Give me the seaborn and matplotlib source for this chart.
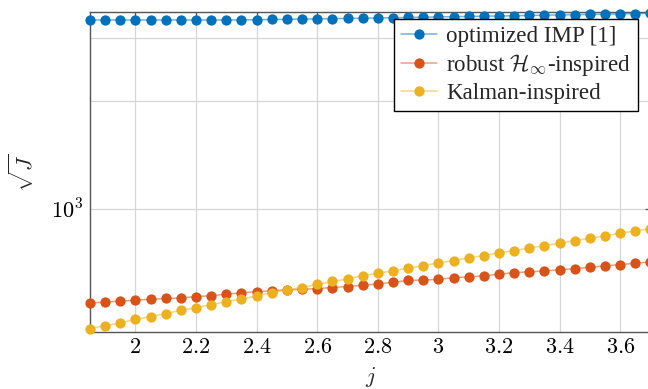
import numpy as np
import matplotlib
matplotlib.use("Agg")
import matplotlib.pyplot as plt
import matplotlib.ticker as mticker
import seaborn as sns

# x positions (step 0.05)
j = np.round(np.arange(1.85, 3.7001, 0.05), 2)

# sqrt(J)
imp = [3372, 3372, 3372, 3372, 3372, 3372, 3372, 3372, 3372, 3372,
       3374, 3378, 3383, 3387, 3391, 3396, 3402, 3406, 3411, 3416,
       3422, 3427, 3433, 3438, 3445, 3449, 3456, 3460, 3465, 3472,
       3478, 3483, 3490, 3494, 3501, 3505, 3514, 3521]
hinf = [545, 550, 552, 556, 559, 562, 564, 569, 572, 578,
        583, 587, 591, 594, 596, 599, 603, 607, 612, 617,
        624, 631, 633, 636, 642, 646, 650, 657, 664, 667,
        671, 676, 681, 687, 693, 699, 705, 711]
kalman = [463, 472, 480, 492, 500, 510, 521, 530, 540, 551,
          560, 571, 584, 594, 603, 615, 627, 637, 651, 661,
          671, 683, 694, 707, 717, 730, 741, 754, 765, 777,
          790, 802, 816, 828, 841, 855, 868, 881]

labels = ["optimized IMP [1]", r"robust $\mathcal{H}_\infty$-inspired", "Kalman-inspired"]
colors = ["#0072BD", "#D95319", "#EDB120"]

sns.set_theme(style="white")
plt.rcParams["font.family"] = ["Liberation Serif", "DejaVu Serif"]
plt.rcParams["mathtext.fontset"] = "cm"

fig = plt.figure(figsize=(6.48, 3.89), dpi=100)
ax = fig.add_axes([90 / 648, 57 / 389, 560.5 / 648, 319.7 / 389])

for y, lab, c in zip([imp, hinf, kalman], labels, colors):
    rgba = matplotlib.colors.to_rgba(c, 0.55)
    sns.lineplot(
        x=j, y=y, ax=ax, label=lab,
        color=rgba, linewidth=1.1,
        marker="o", markersize=7.4,
        markerfacecolor=c, markeredgecolor=c, markeredgewidth=0,
        clip_on=False, zorder=3
    )

ax.set_yscale("log")
ax.set_xlim(1.85, 3.7)
ax.set_ylim(453, 3543)

ax.set_xticks([2, 2.2, 2.4, 2.6, 2.8, 3, 3.2, 3.4, 3.6])
ax.xaxis.set_major_formatter(mticker.FuncFormatter(lambda v, p: f"${v:g}$"))
ax.yaxis.set_major_locator(mticker.FixedLocator([1000]))
ax.yaxis.set_minor_locator(mticker.FixedLocator([2000, 3000]))
ax.yaxis.set_major_formatter(mticker.FixedFormatter([r"$10^{3}$"]))
ax.yaxis.set_minor_formatter(mticker.NullFormatter())

ax.grid(True, which="both", color="#d6d6d6", linewidth=0.9)
ax.set_axisbelow(True)

for s in ax.spines.values():
    s.set_color("#555555")
    s.set_linewidth(1.0)

ax.tick_params(axis="both", which="both", direction="in", top=True, right=True,
               color="#555555", labelsize=16, labelcolor="black")
ax.tick_params(axis="both", which="major", length=4, width=0.9, pad=5)
ax.tick_params(axis="y", which="minor", length=2.5, width=0.9)

ax.set_xlabel(r"$j$", fontsize=16, labelpad=5)
ax.set_ylabel(r"$\sqrt{J}$", fontsize=16, labelpad=9)

leg = ax.legend(loc="upper right", bbox_to_anchor=(638 / 648, 1 - 19.3 / 389),
                bbox_transform=fig.transFigure, borderaxespad=0,
                fontsize=16.6, frameon=True, fancybox=False, framealpha=1,
                edgecolor="black", handlelength=1.55, handletextpad=0.4,
                labelspacing=0.2, borderpad=0.3)
leg.get_frame().set_linewidth(1.0)
leg.set_zorder(5)

fig.savefig("out.png", dpi=100)
